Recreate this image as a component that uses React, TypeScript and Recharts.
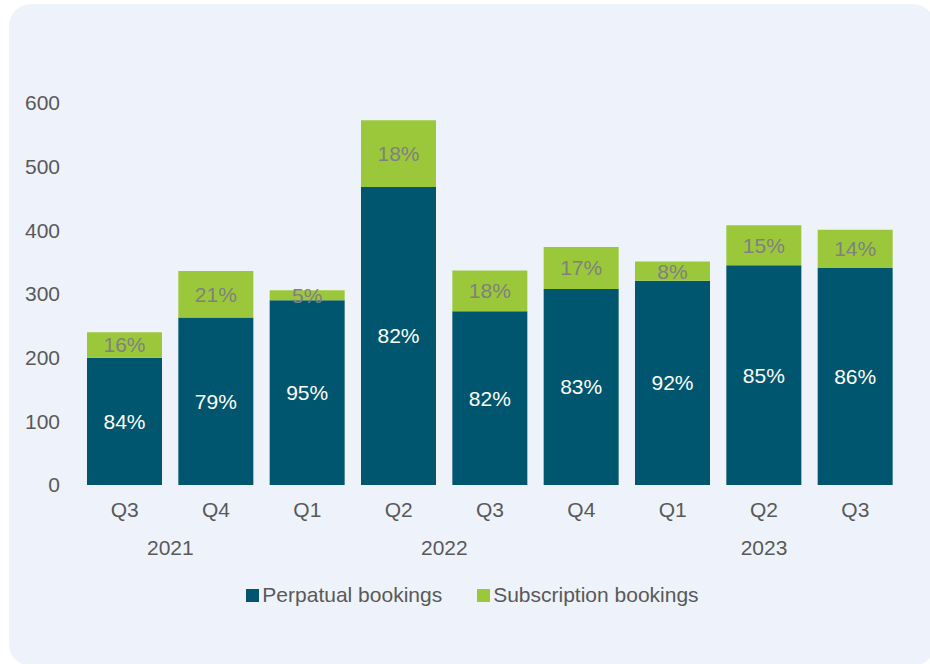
import { BarChart, Bar, XAxis, YAxis, Legend, LabelList } from "recharts";

const quarters = ["Q3", "Q4", "Q1", "Q2", "Q3", "Q4", "Q1", "Q2", "Q3"];
const perpetual = [200, 263, 290, 468, 273, 308, 321, 345, 341];
const subscription = [40, 73, 16, 105, 64, 66, 30, 63, 60];
const perpetualPct = [84, 79, 95, 82, 82, 83, 92, 85, 86];
const subscriptionPct = [16, 21, 5, 18, 18, 17, 8, 15, 14];
// year label, first and last quarter index of the group
const years = [
  { label: "2021", from: 0, to: 1 },
  { label: "2022", from: 2, to: 5 },
  { label: "2023", from: 6, to: 8 },
];
const yTicks = [0, 100, 200, 300, 400, 500, 600];

const data = quarters.map((q, i) => ({
  q,
  perp: perpetual[i],
  subs: subscription[i],
  perpPct: perpetualPct[i],
  subsPct: subscriptionPct[i],
}));

const W = 930;
const H = 664;
const M = { top: 103, right: 29, left: 0, bottom: 0 };
const Y_W = 79;
const BAND = (W - M.left - M.right - Y_W) / quarters.length;
const FONT = "'Liberation Sans', Arial, sans-serif";
const TEXT = "#595959";
const BLUE = "#00566f";
const GREEN = "#9bc83b";

function QuarterTick(props: any) {
  const { x, y, payload, index } = props;
  const yr = years.find((g) => g.from === index);
  return (
    <g>
      <text x={x} y={y + 24} textAnchor="middle" fill={TEXT} fontSize={21} fontFamily={FONT}>
        {payload.value}
      </text>
      {yr && (
        <text
          x={x + ((yr.to - yr.from) / 2) * BAND}
          y={y + 62}
          textAnchor="middle"
          fill={TEXT}
          fontSize={21}
          fontFamily={FONT}
        >
          {yr.label}
        </text>
      )}
    </g>
  );
}

function LegendContent() {
  const items = [
    { name: "Perpatual bookings", color: BLUE },
    { name: "Subscription bookings", color: GREEN },
  ];
  return (
    <div
      style={{
        display: "flex",
        justifyContent: "center",
        gap: 35,
        paddingLeft: 15,
        fontFamily: FONT,
        fontSize: 21,
        color: TEXT,
      }}
    >
      {items.map((it) => (
        <div key={it.name} style={{ display: "flex", alignItems: "center" }}>
          <span style={{ width: 13, height: 13, background: it.color, marginRight: 3, display: "inline-block" }} />
          <span>{it.name}</span>
        </div>
      ))}
    </div>
  );
}

export default function App() {
  return (
    <div style={{ position: "fixed", left: 0, top: 0, width: W, height: H, overflow: "hidden", background: "#fff" }}>
      <div
        style={{
          position: "absolute",
          left: 9,
          top: 4,
          width: 926,
          height: 662,
          borderRadius: 22,
          background: "#eef3fb",
        }}
      />
      <div style={{ position: "absolute", left: 0, top: 0 }}>
        <BarChart width={W} height={H} data={data} margin={M} barSize={75}>
          <XAxis
            dataKey="q"
            axisLine={false}
            tickLine={false}
            height={H - 485}
            tick={<QuarterTick />}
            interval={0}
          />
          <YAxis
            width={Y_W}
            domain={[0, 600]}
            ticks={yTicks}
            axisLine={false}
            tickLine={false}
            tickSize={0}
            tickMargin={19}
            tick={{ fill: TEXT, fontSize: 21, fontFamily: FONT }}
          />
          <Legend
            verticalAlign="middle"
            align="center"
            layout="horizontal"
            content={<LegendContent />}
            wrapperStyle={{ top: 583, left: 0, width: W }}
          />
          <Bar dataKey="perp" stackId="a" fill={BLUE} isAnimationActive={false}>
            <LabelList
              dataKey="perpPct"
              position="center"
              formatter={(v: any) => `${v}%`}
              fill="#ffffff"
              fontSize={21}
              fontFamily={FONT}
            />
          </Bar>
          <Bar dataKey="subs" stackId="a" fill={GREEN} isAnimationActive={false}>
            <LabelList
              dataKey="subsPct"
              position="center"
              formatter={(v: any) => `${v}%`}
              fill="#808080"
              fontSize={21}
              fontFamily={FONT}
            />
          </Bar>
        </BarChart>
      </div>
    </div>
  );
}
